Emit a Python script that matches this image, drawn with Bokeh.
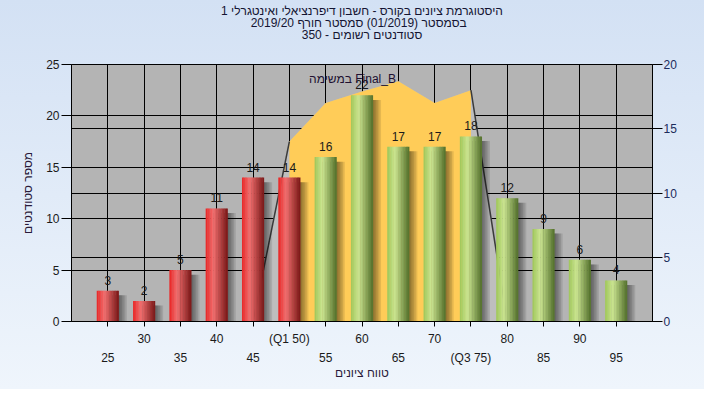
from bokeh.plotting import figure
from bokeh.models import Range1d, LinearAxis, FixedTicker, Grid, Label, Title
from bokeh.embed import file_html
from bokeh.resources import INLINE
from bokeh.core.properties import value

# ---------------- data ----------------
categories = ["25", "30", "35", "40", "45", "(Q1 50)", "55", "60",
              "65", "70", "(Q3 75)", "80", "85", "90", "95"]
counts = [3, 2, 5, 11, 14, 14, 16, 22, 17, 17, 18, 12, 9, 6, 4]
final_b_categories = ["45", "(Q1 50)", "55", "60", "65", "70", "(Q3 75)", "80"]
final_b_values = [0, 14, 17, 17.9, 18.7, 17, 18, 0]
q1_label = "(Q1 50)"
q3_label = "(Q3 75)"
left_ticks = [0, 5, 10, 15, 20, 25]
right_ticks = [0, 5, 10, 15, 20]
title_lines = [
    "היסטוגרמת ציונים בקורס - חשבון דיפרנציאלי ואינטגרלי 1",
    "בסמסטר  (01/2019)  סמסטר חורף 2019/20",
    "סטודנטים רשומים - 350",
]
legend_text = "במשימה Final_B"
x_title = "טווח ציונים"
y_title = "מספר סטודנטים"

FONT = "Liberation Sans"

# ---------------- helpers ----------------
xpos = [i + 1 for i in range(len(categories))]
pos_of = {c: i + 1 for i, c in enumerate(categories)}
q1_i = categories.index(q1_label)
q3_i = categories.index(q3_label)


def lerp(c1, c2, t):
    return tuple(int(round(a + (b - a) * t)) for a, b in zip(c1, c2))


def cyl(stops, t):
    base, light, dark = stops
    if t < 0.35:
        c = lerp(base, light, t / 0.35)
    else:
        c = lerp(light, dark, (t - 0.35) / 0.65)
    return "#%02x%02x%02x" % c


RED = ((232, 36, 36), (242, 112, 112), (122, 22, 22))
GREEN = ((158, 198, 88), (204, 230, 146), (82, 112, 42))

# ---------------- figure ----------------
p = figure(width=704, height=389, x_range=Range1d(0, 16), y_range=Range1d(0, 25),
           output_backend="svg", toolbar_location=None, title=None,
           min_border_left=71, min_border_right=52, min_border_top=64,
           min_border_bottom=68)
p.background_fill_color = "#B4B4B4"
p.border_fill_color = None
p.outline_line_color = "black"
p.styles = {"background": "linear-gradient(to bottom, #D3E1F4, #EFF5FC)"}
p.extra_y_ranges = {"right": Range1d(0, 20)}

# grids
p.xgrid.ticker = FixedTicker(ticks=xpos)
p.xgrid.grid_line_color = "black"
p.ygrid.ticker = FixedTicker(ticks=left_ticks[1:])
p.ygrid.grid_line_color = "black"
p.add_layout(Grid(dimension=1, ticker=FixedTicker(ticks=right_ticks[1:]),
                  y_range_name="right", grid_line_color="black"))

# left axis
ya = p.yaxis[0]
ya.ticker = FixedTicker(ticks=left_ticks)
ya.major_tick_out = 10
ya.major_tick_in = 0
ya.minor_tick_out = 0
ya.minor_tick_in = 0
ya.major_label_standoff = 2
ya.axis_line_color = "black"
ya.major_tick_line_color = "black"
ya.major_label_text_font = FONT
ya.major_label_text_font_size = "12px"
ya.major_label_text_color = "#1a1a1a"
ya.axis_label = y_title
ya.axis_label_standoff = 8
ya.axis_label_text_font = FONT
ya.axis_label_text_font_size = "12px"
ya.axis_label_text_font_style = "normal"
ya.axis_label_text_color = "#2a1a3a"

# right axis
yr = LinearAxis(y_range_name="right", ticker=FixedTicker(ticks=right_ticks))
yr.major_tick_out = 10
yr.major_tick_in = 0
yr.minor_tick_out = 0
yr.minor_tick_in = 0
yr.major_label_standoff = 1
yr.axis_line_color = "black"
yr.major_label_text_font = FONT
yr.major_label_text_font_size = "12px"
yr.major_label_text_color = "#1c2c5c"
p.add_layout(yr, "right")

# bottom axes: two rows of labels
upper = {x: (categories[x - 1] if (x - 1) % 2 == 1 else "") for x in xpos}
lower_ticks = [x for x in xpos if (x - 1) % 2 == 0]
xa = p.xaxis[0]
xa.ticker = FixedTicker(ticks=xpos)
xa.major_label_overrides = upper
xa.major_tick_out = 5
xa.major_tick_in = 0
xa.minor_tick_out = 0
xa.minor_tick_in = 0
xa.major_label_standoff = 5
xa.axis_line_color = "black"
xa.major_label_text_font = FONT
xa.major_label_text_font_size = "12px"
xa.major_label_text_color = "#1a1a1a"

xb = LinearAxis(ticker=FixedTicker(ticks=lower_ticks))
xb.major_label_overrides = {x: categories[x - 1] for x in lower_ticks}
xb.major_tick_out = 0
xb.major_tick_in = 0
xb.minor_tick_out = 0
xb.minor_tick_in = 0
xb.axis_line_color = None
xb.major_tick_line_color = None
xb.major_label_standoff = 2
xb.major_label_text_font = FONT
xb.major_label_text_font_size = "12px"
xb.major_label_text_color = "#1a1a1a"
xb.axis_label = x_title
xb.axis_label_standoff = -2
xb.axis_label_text_font = FONT
xb.axis_label_text_font_size = "12px"
xb.axis_label_text_font_style = "normal"
xb.axis_label_text_color = "#2a1a3a"
p.add_layout(xb, "below")

# title: spacer, then three single-line titles (innermost first)
p.add_layout(Title(text=" ", align="center", standoff=9, text_font=FONT,
                   text_font_size="12px"), "above")
for line in reversed(title_lines):
    p.add_layout(Title(text=line, align="center", standoff=-4, text_font=FONT,
                       text_font_size="12px", text_font_style="normal",
                       text_color="#141432"), "above")

# ---------------- Final_B area (right axis) ----------------
fb_x = [pos_of[c] for c in final_b_categories]
p.varea(x=fb_x, y1=[0] * len(fb_x), y2=final_b_values, fill_color="#BEBEBE",
        y_range_name="right")
a = final_b_categories.index(q1_label)
b = final_b_categories.index(q3_label)
p.varea(x=fb_x[a:b + 1], y1=[0] * (b - a + 1), y2=final_b_values[a:b + 1],
        fill_color="#FFCC58", y_range_name="right")
p.line(x=fb_x[:a + 1], y=final_b_values[:a + 1], line_color="#3a3a3a",
       line_width=1.5, y_range_name="right")
p.line(x=fb_x[b:], y=final_b_values[b:], line_color="#3a3a3a",
       line_width=1.5, y_range_name="right")

# ---------------- bars ----------------
BAR_W = 0.6
shadow_top = [v - 0.45 for v in counts]
for k in range(5):
    p.vbar(x=[x + 0.045 * (k + 1) for x in xpos], top=shadow_top, width=BAR_W,
           fill_color="black", fill_alpha=0.1, line_color=None)

N = 14
sw = BAR_W / N
for k in range(N):
    t = (k + 0.5) / N
    cols = [cyl(RED, t) if i <= q1_i else cyl(GREEN, t) for i in range(len(categories))]
    p.vbar(x=[x - BAR_W / 2 + (k + 0.5) * sw for x in xpos], top=counts,
           width=sw * 1.25, fill_color=cols, line_color=None)

p.text(x=xpos, y=counts, text=[str(v) for v in counts], text_align="center",
       text_baseline="bottom", y_offset=-6, text_font=value(FONT),
       text_font_size="12px", text_color="#1a1a1a")

# legend-like series caption
p.add_layout(Label(x=281, y=243, x_units="screen", y_units="screen",
                   text=legend_text, text_align="center", text_baseline="middle",
                   text_font=FONT, text_font_size="12px", text_color="#201030"))

open("out.html", "w").write(file_html(p, INLINE))
